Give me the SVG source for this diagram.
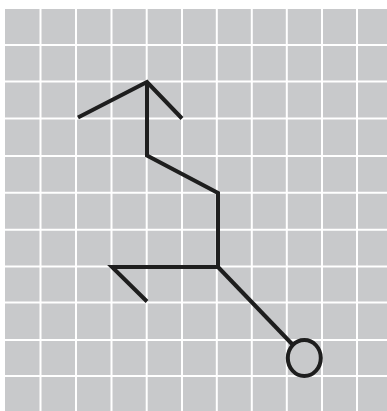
<svg xmlns="http://www.w3.org/2000/svg" width="387" height="411" viewBox="0 0 387 411">
<style>
.grid line{stroke:#ffffff;stroke-width:2}
.ink{fill:none;stroke:#1e1e1e;stroke-width:4;stroke-linejoin:miter;stroke-linecap:butt}
</style>
<rect x="0" y="0" width="387" height="411" fill="#ffffff"/>
<rect x="5" y="9" width="382" height="402" fill="#c8c9cb"/>
<g class="grid">
<line x1="40.5" y1="9" x2="40.5" y2="411"/>
<line x1="76" y1="9" x2="76" y2="411"/>
<line x1="111.5" y1="9" x2="111.5" y2="411"/>
<line x1="146.7" y1="9" x2="146.7" y2="411"/>
<line x1="182" y1="9" x2="182" y2="411"/>
<line x1="216.8" y1="9" x2="216.8" y2="411"/>
<line x1="251.8" y1="9" x2="251.8" y2="411"/>
<line x1="286.8" y1="9" x2="286.8" y2="411"/>
<line x1="322" y1="9" x2="322" y2="411"/>
<line x1="357" y1="9" x2="357" y2="411"/>
<line x1="5" y1="45" x2="387" y2="45"/>
<line x1="5" y1="81.6" x2="387" y2="81.6"/>
<line x1="5" y1="118.6" x2="387" y2="118.6"/>
<line x1="5" y1="156" x2="387" y2="156"/>
<line x1="5" y1="192.8" x2="387" y2="192.8"/>
<line x1="5" y1="229.8" x2="387" y2="229.8"/>
<line x1="5" y1="266.6" x2="387" y2="266.6"/>
<line x1="5" y1="302.6" x2="387" y2="302.6"/>
<line x1="5" y1="340" x2="387" y2="340"/>
<line x1="5" y1="376" x2="387" y2="376"/>
</g>
<g id="figure">
<polyline class="ink" points="78,117.5 147,82 182,118.5"/>
<polyline class="ink" points="147,82 147,155.5 218,193 218,267 112,267 147,301.5"/>
<line class="ink" x1="218" y1="267" x2="292" y2="344"/>
<ellipse class="ink" cx="304.3" cy="358" rx="16.5" ry="18"/>
</g>
</svg>
